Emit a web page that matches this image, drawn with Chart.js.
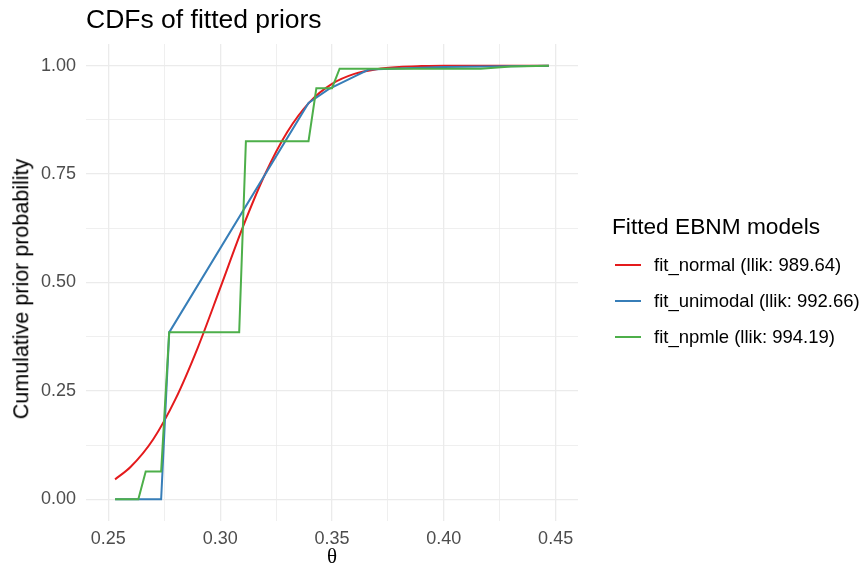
<!DOCTYPE html>
<html>
<head>
<meta charset="utf-8">
<script src="https://cdn.jsdelivr.net/npm/chart.js@4"></script>
<style>
    body { margin: 0; background: #fff; font-family: "Liberation Sans", Arial, sans-serif; }
    #wrap { position: relative; width: 861px; height: 572px; }
    #plot { position: absolute; left: 0; top: 0; }
    .title { position: absolute; left: 86px; top: 6px; font-size: 26.5px; line-height: 1; color: #000; }
    .xtitle { position: absolute; left: 312px; top: 546px; width: 40px; text-align: center; line-height: 1;
              font-family: "Liberation Serif", "DejaVu Serif", serif; font-size: 21px; color: #000; }
    .ytitle { position: absolute; left: 22px; top: 289px; font-size: 21.5px; line-height: 1; color: #000;
              white-space: nowrap; transform: translate(-50%, -50%) rotate(-90deg); }
    .legend-title { position: absolute; left: 612px; top: 215px; font-size: 22.7px; line-height: 1; color: #000; }
    .legend-item { position: absolute; left: 615px; height: 36px; display: flex; align-items: center;
                   font-size: 18.5px; color: #000; white-space: nowrap; }
    .legend-item span.key { display: inline-block; width: 26px; height: 2px; margin-right: 13px; }
</style>
</head>
<body>
<div id="wrap">
    <canvas id="plot" width="861" height="572"></canvas>
    <div class="title">CDFs of fitted priors</div>
    <div class="xtitle">θ</div>
    <div class="ytitle">Cumulative prior probability</div>
    <div class="legend-title">Fitted EBNM models</div>
    <div id="legend"></div>
</div>
<script>
// values
const seriesNames = ['fit_normal (llik: 989.64)', 'fit_unimodal (llik: 992.66)', 'fit_npmle (llik: 994.19)'];
const seriesColors = ['#E41A1C', '#377EB8', '#4DAF4A'];

const thetaNormal = [0.253, 0.26, 0.27, 0.28, 0.29, 0.30, 0.31, 0.32, 0.33, 0.34, 0.35, 0.36, 0.37, 0.38, 0.39, 0.40, 0.42, 0.447];
const cdfNormal   = [0.046, 0.075, 0.138, 0.231, 0.350, 0.487, 0.626, 0.749, 0.847, 0.916, 0.958, 0.981, 0.992, 0.997, 0.999, 1.0, 1.0, 1.0];

const thetaUnimodal = [0.253, 0.2736, 0.2772, 0.3395, 0.3485, 0.3597, 0.3664, 0.40, 0.447];
const cdfUnimodal   = [0, 0, 0.385, 0.914, 0.946, 0.974, 0.991, 0.997, 1.0];

const thetaNpmle = [0.253, 0.2634, 0.2667, 0.2736, 0.2772, 0.3085, 0.3115, 0.3395, 0.343, 0.35, 0.3534, 0.4165, 0.43, 0.447];
const cdfNpmle   = [0, 0, 0.064, 0.064, 0.385, 0.385, 0.826, 0.826, 0.948, 0.948, 0.993, 0.993, 0.998, 1.0];

const xMajorTicks = [0.25, 0.30, 0.35, 0.40, 0.45];
const xMinorTicks = [0.275, 0.325, 0.375, 0.425];
const yMajorTicks = [0, 0.25, 0.5, 0.75, 1];
const yMinorTicks = [0.125, 0.375, 0.625, 0.875];


function toPoints(xs, ys) {
    return xs.map((x, i) => ({ x: x, y: ys[i] }));
}

function setTicks(majors, minors) {
    return function (scale) {
        scale.ticks = majors.concat(minors).sort((a, b) => a - b).map(v => ({ value: v, major: majors.includes(v) }));
    };
}

function gridWidth(ctx) {
    return ctx.tick && ctx.tick.major ? 1.3 : 0.8;
}

const tickFont = { family: 'Liberation Sans', size: 18 };

const ctx = document.getElementById('plot').getContext('2d');
const chartObject = new Chart(ctx, {
    type: 'line',
    data: {
        datasets: [
            { label: seriesNames[0], data: toPoints(thetaNormal, cdfNormal), borderColor: seriesColors[0], order: 2, cubicInterpolationMode: 'monotone' },
            { label: seriesNames[1], data: toPoints(thetaUnimodal, cdfUnimodal), borderColor: seriesColors[1], order: 1 },
            { label: seriesNames[2], data: toPoints(thetaNpmle, cdfNpmle), borderColor: seriesColors[2], order: 0 }
        ].map(d => Object.assign(d, { borderWidth: 2, pointRadius: 0, fill: false }))
    },
    options: {
        responsive: false,
        animation: false,
        layout: { padding: { left: 0, top: 44, right: 283, bottom: 0 } },
        plugins: { legend: { display: false }, tooltip: { enabled: false } },
        scales: {
            x: {
                type: 'linear',
                min: 0.24,
                max: 0.46,
                afterBuildTicks: setTicks(xMajorTicks, xMinorTicks),
                afterFit: s => { s.height = 51; },
                border: { display: false },
                grid: { color: '#EBEBEB', lineWidth: gridWidth, drawTicks: false },
                ticks: {
                    padding: 7,
                    color: '#4D4D4D',
                    font: tickFont,
                    autoSkip: false,
                    maxRotation: 0,
                    callback: v => xMajorTicks.includes(v) ? v.toFixed(2) : ''
                }
            },
            y: {
                min: -0.05,
                max: 1.05,
                afterBuildTicks: setTicks(yMajorTicks, yMinorTicks),
                afterFit: s => { s.width = 86; },
                border: { display: false },
                grid: { color: '#EBEBEB', lineWidth: gridWidth, drawTicks: false },
                ticks: {
                    padding: 10,
                    color: '#4D4D4D',
                    font: tickFont,
                    autoSkip: false,
                    callback: v => yMajorTicks.includes(v) ? v.toFixed(2) : ''
                }
            }
        }
    }
});

// legend rows, same order as the reference
const legend = document.getElementById('legend');
legend.innerHTML = seriesNames.map((name, i) =>
    `<div class="legend-item" style="top:${247 + i * 36}px"><span class="key" style="background:${seriesColors[i]}"></span>${name}</div>`
).join('');
</script>
</body>
</html>
